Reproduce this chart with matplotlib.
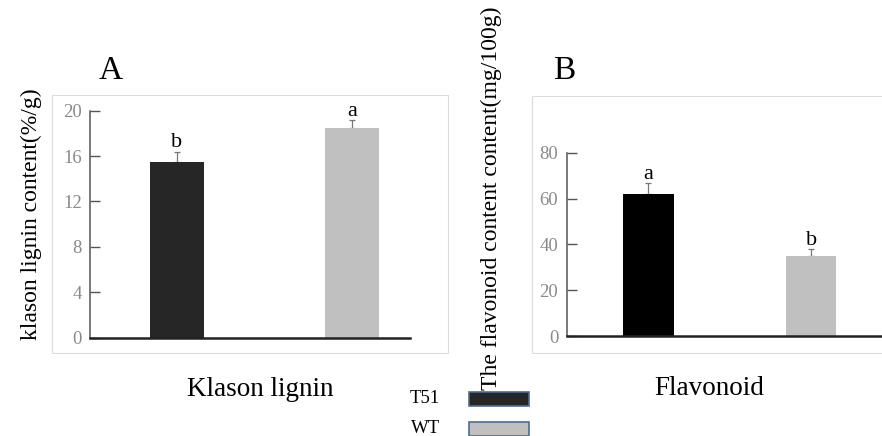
import matplotlib.pyplot as plt
from matplotlib.patches import Rectangle

plt.rcParams['font.family'] = ['Liberation Serif', 'DejaVu Serif']

# values
genotypes = ["T51", "WT"]
lignin = [15.5, 18.5]
lignin_err = [0.9, 0.7]
lignin_letters = ["b", "a"]
flavonoid = [62.0, 35.0]
flavonoid_err = [4.9, 3.0]
flavonoid_letters = ["a", "b"]

W, H = 882, 436
fig = plt.figure(figsize=(W / 100, H / 100), dpi=100)


def box(x0, y0, x1, y1):
    # pixel box (top-left origin) -> figure fraction [l, b, w, h]
    return [x0 / W, 1 - y1 / H, (x1 - x0) / W, (y1 - y0) / H]


def frame(x0, y0, x1, y1):
    l, b, w, h = box(x0, y0, x1, y1)
    fig.patches.append(Rectangle((l, b), w, h, transform=fig.transFigure,
                                 fill=False, ec="#dcdcdc", lw=0.8))


frame(52, 95, 448, 353)
frame(532, 96, 890, 353)


def panel(rect, values, errs, letters, colors, ymax, step, xlim):
    ax = fig.add_axes(box(*rect))
    x = range(len(values))
    ax.bar(x, values, width=0.31, color=colors, zorder=2)
    # upper error only; lower cap hidden behind the bar
    ax.errorbar(x, values, yerr=[[0] * len(errs), errs], fmt="none",
                ecolor="#777777", elinewidth=0.9, capsize=2.5, capthick=0.9,
                zorder=1)
    for xi, v, e, t in zip(x, values, errs, letters):
        ax.annotate(t, (xi, v + e), xytext=(0, 3), textcoords="offset points",
                    ha="center", va="baseline", fontsize=16)
    ax.set_xlim(*xlim)
    ax.set_ylim(0, ymax)
    ax.set_yticks(range(0, ymax + 1, step))
    ax.set_xticks([])
    for s in ("top", "right"):
        ax.spines[s].set_visible(False)
    ax.spines["left"].set_color("#555555")
    ax.spines["left"].set_linewidth(1.1)
    ax.spines["bottom"].set_color("#222222")
    ax.spines["bottom"].set_linewidth(1.8)
    ax.tick_params(axis="y", direction="in", length=7, width=1.0,
                   color="#555555", labelcolor="#8a8a8a", labelsize=13.5,
                   pad=6)
    ax.patch.set_visible(False)
    return ax


panel((90, 110.7, 410, 337.7), lignin, lignin_err, lignin_letters,
      ["#262626", "#c0c0c0"], 20, 4, (-0.497, 1.331))
panel((566.5, 152.7, 882, 336), flavonoid, flavonoid_err, flavonoid_letters,
      ["#000000", "#c0c0c0"], 80, 20, (-0.503, 1.436))

# panel letters
fig.text(111 / W, 1 - 79 / H, "A", fontsize=24, ha="center", va="baseline")
fig.text(564 / W, 1 - 79 / H, "B", fontsize=24, ha="center", va="baseline")

# axis labels
fig.text(31 / W, 1 - 214 / H, "klason lignin content(%/g)", rotation=90,
         fontsize=17, ha="center", va="center")
fig.text(491 / W, 1 - 390 / H, "The flavonoid content content(mg/100g)",
         rotation=90, fontsize=17, ha="center", va="bottom")
fig.text(260 / W, 1 - 396 / H, "Klason lignin", fontsize=19.5,
         ha="center", va="baseline")
fig.text(709 / W, 1 - 395 / H, "Flavonoid", fontsize=19.5,
         ha="center", va="baseline")

# legend swatches
legend_fill = ["#262626", "#c0c0c0"]
for i, (name, fc) in enumerate(zip(genotypes, legend_fill)):
    y0 = 392 + i * 30
    l, b, w, h = box(469, y0, 529, y0 + 14)
    fig.patches.append(Rectangle((l, b), w, h, transform=fig.transFigure,
                                 fc=fc, ec="#4a6d90", lw=1.2))
    fig.text(440 / W, 1 - (y0 + 11) / H, name, fontsize=13.5,
             ha="right", va="baseline")

fig.savefig("out.png", dpi=100)
